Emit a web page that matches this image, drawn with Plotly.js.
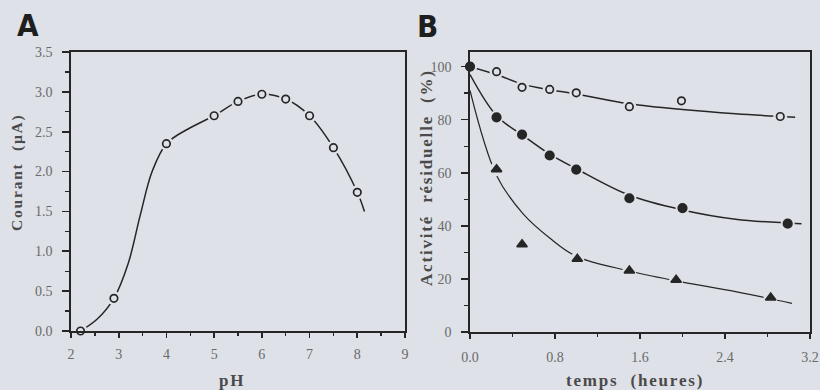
<!DOCTYPE html>
<html>
<head>
<meta charset="utf-8">
<script src="https://cdn.plot.ly/plotly-3.0.1.min.js"></script>
<style>
html,body{margin:0;padding:0;background:#dee1e7;}
#chart{width:820px;height:390px;}
text.annotation-text{letter-spacing:1.8px;}
</style>
</head>
<body>
<div id="chart"></div>
<script>
// ---- Panel A data ----
const phX = [2.2, 2.9, 4.0, 5.0, 5.5, 6.0, 6.5, 7.0, 7.5, 8.0];
const courant = [0.0, 0.41, 2.35, 2.70, 2.88, 2.97, 2.91, 2.70, 2.30, 1.74];
// drawn curve
const curveAX = [2.2, 2.55, 2.9, 3.2, 3.45, 3.7, 4.0, 4.5, 5.0, 5.5, 6.0, 6.5, 7.0, 7.5, 8.0, 8.15];
const curveAY = [0.0, 0.15, 0.41, 0.85, 1.45, 2.0, 2.35, 2.55, 2.70, 2.88, 2.97, 2.91, 2.70, 2.30, 1.74, 1.5];

// ---- Panel B data ----
const tOpen = [0, 0.25, 0.49, 0.75, 1.0, 1.5, 1.99, 2.92];
const actOpen = [100, 98.1, 92.2, 91.4, 90.1, 84.9, 87.1, 81.2];
const tFilled = [0, 0.25, 0.49, 0.75, 1.0, 1.5, 2.0, 2.99];
const actFilled = [100, 80.9, 74.4, 66.5, 61.2, 50.4, 46.7, 40.8];
const tTri = [0.25, 0.49, 1.01, 1.5, 1.94, 2.83];
const actTri = [61.3, 33.0, 27.5, 23.1, 19.6, 12.9];
// drawn fit curves
const fitOpenX = [0, 0.25, 0.5, 0.75, 1.0, 1.5, 2.0, 2.5, 3.06];
const fitOpenY = [100, 97, 93.3, 91.3, 89.7, 86, 83.8, 82.2, 80.9];
const fitFilledX = [0, 0.25, 0.5, 0.75, 1.0, 1.5, 2.0, 2.5, 3.12];
const fitFilledY = [97, 81.5, 74, 67, 61.5, 51.5, 46, 42.5, 40.8];
const fitTriX = [0, 0.25, 0.5, 0.75, 1.0, 1.5, 2.0, 2.5, 3.03];
const fitTriY = [91, 59, 44.5, 35.4, 28.5, 23, 18.8, 15.2, 10.8];

// tick labels
const tickA_X = [2, 3, 4, 5, 6, 7, 8, 9];
const tickA_Y = [0, 0.5, 1.0, 1.5, 2.0, 2.5, 3.0, 3.5];
const tickA_Ytext = ['0.0', '0.5', '1.0', '1.5', '2.0', '2.5', '3.0', '3.5'];
const tickB_X = [0, 0.8, 1.6, 2.4, 3.2];
const tickB_Xtext = ['0.0', '0.8', '1.6', '2.4', '3.2'];
const tickB_Y = [0, 20, 40, 60, 80, 100];

const BG = '#dee1e7';
const INK = '#262626';
const W = 820, H = 390;

function line(x, y, xa, ya, w) {
  return {x: x, y: y, xaxis: xa, yaxis: ya, type: 'scatter', mode: 'lines',
    line: {color: INK, width: w || 1.5, shape: 'spline', smoothing: 1}, hoverinfo: 'skip', showlegend: false};
}
function halo(x, y, xa, ya, s) {
  return {x: x, y: y, xaxis: xa, yaxis: ya, type: 'scatter', mode: 'markers', cliponaxis: false,
    marker: {symbol: 'circle', size: s, color: BG, line: {width: 0}}, hoverinfo: 'skip', showlegend: false};
}
function pts(x, y, xa, ya, symbol, size, fill) {
  return {x: x, y: y, xaxis: xa, yaxis: ya, type: 'scatter', mode: 'markers', cliponaxis: false,
    marker: {symbol: symbol, size: size, color: fill, line: {color: INK, width: 1.7}}, showlegend: false};
}

const data = [
  line(curveAX, curveAY, 'x', 'y', 1.5),
  halo(phX, courant, 'x', 'y', 14),
  pts(phX, courant, 'x', 'y', 'circle', 7.5, BG),

  line(fitOpenX, fitOpenY, 'x2', 'y2', 1.5),
  line(fitFilledX, fitFilledY, 'x2', 'y2', 1.5),
  line(fitTriX, fitTriY, 'x2', 'y2', 1.2),
  halo(tOpen, actOpen, 'x2', 'y2', 14),
  halo(tFilled, actFilled, 'x2', 'y2', 14),
  halo(tTri, actTri, 'x2', 'y2', 14),
  pts(tOpen, actOpen, 'x2', 'y2', 'circle', 7.5, BG),
  pts(tTri, actTri, 'x2', 'y2', 'triangle-up', 9, INK),
  pts(tFilled, actFilled, 'x2', 'y2', 'circle', 8.5, INK)
];

const tickFont = {family: 'Liberation Serif, Times New Roman, serif', size: 14, color: '#6a6a6a'};
const axBase = {showline: true, mirror: true, linecolor: '#262626', linewidth: 1.8,
  showgrid: false, zeroline: false, ticks: 'outside', tickcolor: '#262626', tickwidth: 1.6,
  tickfont: tickFont, tickmode: 'array', fixedrange: true};

function px(v) { return v / W; }
function py(v) { return 1 - v / H; }

const layout = {
  width: W, height: H,
  margin: {l: 0, r: 0, t: 0, b: 0},
  paper_bgcolor: BG, plot_bgcolor: BG,
  showlegend: false,
  xaxis: Object.assign({}, axBase, {domain: [px(71), px(405)], range: [2, 9],
    tickvals: tickA_X, ticktext: tickA_X.map(String), ticklen: 5, ticklabelstandoff: 4,
    minor: {dtick: 0.5, ticks: 'outside', ticklen: 3, tickcolor: '#262626', tickwidth: 1.4}, anchor: 'y'}),
  yaxis: Object.assign({}, axBase, {domain: [py(331), py(52)], range: [0, 3.5],
    tickvals: tickA_Y, ticktext: tickA_Ytext, ticklen: 7, ticklabelstandoff: 7,
    minor: {dtick: 0.25, ticks: 'outside', ticklen: 4, tickcolor: '#262626', tickwidth: 1.4}, anchor: 'x'}),
  xaxis2: Object.assign({}, axBase, {domain: [px(470), px(810)], range: [0, 3.2],
    tickvals: tickB_X, ticktext: tickB_Xtext, ticklen: 5, ticklabelstandoff: 6,
    minor: {dtick: 0.4, ticks: 'outside', ticklen: 3, tickcolor: '#262626', tickwidth: 1.4}, anchor: 'y2'}),
  yaxis2: Object.assign({}, axBase, {domain: [py(332), py(52)], range: [0, 105.5],
    tickvals: tickB_Y, ticktext: tickB_Y.map(String), ticklen: 7, ticklabelstandoff: 7,
    minor: {dtick: 10, ticks: 'outside', ticklen: 4, tickcolor: '#262626', tickwidth: 1.4}, anchor: 'x2'}),
  annotations: [
    {text: 'A', x: px(29), y: py(25), xref: 'paper', yref: 'paper', showarrow: false,
      xanchor: 'center', yanchor: 'middle',
      font: {family: 'DejaVu Sans Condensed, Liberation Sans Narrow, sans-serif', size: 31, weight: 'bold', color: '#1e1e1e'}},
    {text: 'B', x: px(428), y: py(26), xref: 'paper', yref: 'paper', showarrow: false,
      xanchor: 'center', yanchor: 'middle',
      font: {family: 'DejaVu Sans Condensed, Liberation Sans Narrow, sans-serif', size: 31, weight: 'bold', color: '#1e1e1e'}},
    {text: 'Courant\u00a0\u00a0(µA)', x: px(17), y: py(172), xref: 'paper', yref: 'paper', showarrow: false,
      textangle: -90, xanchor: 'center', yanchor: 'middle',
      font: {family: 'Liberation Serif, Times New Roman, serif', size: 15.5, weight: 'bold', color: '#4a4a4a'}},
    {text: 'pH', x: px(232), y: py(380), xref: 'paper', yref: 'paper', showarrow: false,
      xanchor: 'center', yanchor: 'middle',
      font: {family: 'Liberation Serif, Times New Roman, serif', size: 17, weight: 'bold', color: '#4a4a4a'}},
    {text: 'Activité\u00a0\u00a0résiduelle\u00a0\u00a0(%)', x: px(427), y: py(178), xref: 'paper', yref: 'paper', showarrow: false,
      textangle: -90, xanchor: 'center', yanchor: 'middle',
      font: {family: 'Liberation Serif, Times New Roman, serif', size: 17, weight: 'bold', color: '#4a4a4a'}},
    {text: 'temps\u00a0\u00a0(heures)', x: px(635), y: py(380), xref: 'paper', yref: 'paper', showarrow: false,
      xanchor: 'center', yanchor: 'middle',
      font: {family: 'Liberation Serif, Times New Roman, serif', size: 17, weight: 'bold', color: '#4a4a4a'}}
  ]
};

Plotly.newPlot('chart', data, layout, {staticPlot: true, displayModeBar: false});
</script>
</body>
</html>
